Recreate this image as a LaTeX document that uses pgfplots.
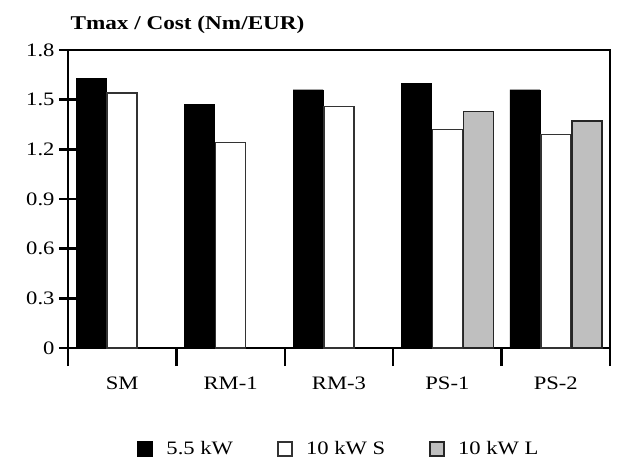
\documentclass[border=0pt]{standalone}
\usepackage{fontspec}
\setmainfont{Liberation Serif}[FakeStretch=1.19]
\usepackage{pgfplots}
\pgfplotsset{compat=1.18}
\begin{document}
\begin{tikzpicture}[x=1pt, y=1pt, font=\fontsize{19}{22}\selectfont]
\path[use as bounding box] (0,0) rectangle (618,-468);
\begin{axis}[
  at={(68pt,-348pt)}, anchor=south west,
  scale only axis, width=542pt, height=298pt,
  xmin=-0.5, xmax=4.5, ymin=0, ymax=1.8,
  ytick={0,0.3,0.6,0.9,1.2,1.5,1.8},
  yticklabels={0,0.3,0.6,0.9,1.2,1.5,1.8},
  xtick={0,1,2,3,4}, xticklabels={SM,RM-1,RM-3,PS-1,PS-2},
  minor xtick={-0.5,0.5,1.5,2.5,3.5,4.5},
  major x tick style={draw=none},
  minor x tick style={line width=2.5pt, black},
  major y tick style={line width=2.5pt, black},
  major tick length=18pt, minor tick length=18pt, tick align=center,
  xtick pos=bottom, ytick pos=left,
  axis line style={line width=2.5pt},
  ybar=1pt, bar width=30pt,
  tick label style={font=\fontsize{19}{22}\selectfont},
  yticklabel style={xshift=-1pt},
  xticklabel style={yshift=-7pt},
  title={\textbf{Tmax / Cost (Nm/EUR)}},
  title style={at={(0,1)}, anchor=base west, yshift=15pt, xshift=-1pt, font=\fontsize{19.5}{22}\selectfont},
  legend style={at={(0.5,0)}, anchor=center, yshift=-101pt, draw=none,
    font=\fontsize{19}{22}\selectfont,
    /tikz/every odd column/.append style={column sep=11pt},
    /tikz/every even column/.append style={column sep=42pt}},
  legend columns=3,
  legend image code/.code={\draw[#1, line width=2pt] (0pt,-7pt) rectangle (14pt,7pt);},
]
\addplot[fill=black, draw=black] coordinates {(0,1.63) (1,1.47) (2,1.56) (3,1.60) (4,1.56)};
\addplot[fill=white, draw=black!80, line width=1.5pt] coordinates {(0,1.54) (1,1.24) (2,1.46) (3,1.32) (4,1.29)};
\addplot[fill=black!25, draw=black!85, line width=1.5pt] coordinates {(3,1.43) (4,1.37)};
\legend{5.5 kW, 10 kW S, 10 kW L}
\end{axis}
\end{tikzpicture}
\end{document}
